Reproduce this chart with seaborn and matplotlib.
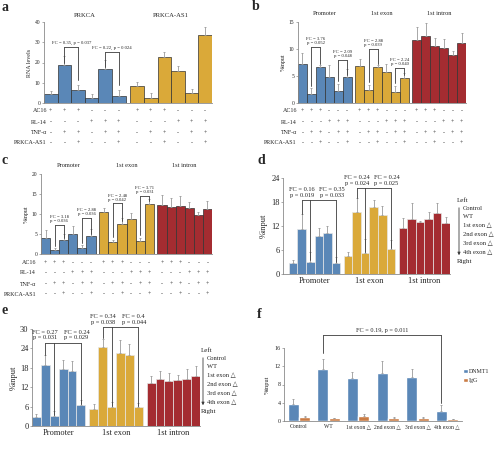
import numpy as np
import pandas as pd
import matplotlib
matplotlib.use("Agg")
import matplotlib.pyplot as plt
import seaborn as sns
from matplotlib.transforms import blended_transform_factory

# === DATA ===
# panel a: RNA levels
A_GROUPS = ["PRKCA", "PRKCA-AS1"]
A_PRKCA = [4.4, 18.6, 6.4, 2.3, 16.8, 3.5]
A_PRKCA_ERR = [1.5, 4.5, 2.5, 2.0, 4.5, 2.9]
A_AS1 = [8.4, 2.3, 22.6, 15.8, 4.8, 33.6]
A_AS1_ERR = [2.0, 2.8, 2.4, 2.5, 2.0, 4.1]

# panel b: %input
REGIONS = ["Promoter", "1st exon", "1st intron"]
B_PROM = [7.2, 1.7, 6.7, 4.8, 2.2, 4.8]
B_PROM_ERR = [2.0, 1.0, 0.3, 2.2, 1.4, 1.5]
B_EXON = [6.9, 2.4, 6.7, 5.7, 2.0, 4.7]
B_EXON_ERR = [1.3, 1.0, 0.3, 1.5, 1.2, 0.8]
B_INTRON = [11.7, 12.5, 10.5, 10.2, 8.8, 11.2]
B_INTRON_ERR = [2.3, 2.3, 1.5, 1.6, 0.8, 1.7]

# panel c: %input
C_PROM = [4.0, 1.0, 3.5, 5.1, 1.6, 4.5]
C_PROM_ERR = [2.0, 0.5, 1.5, 2.0, 0.6, 1.8]
C_EXON = [10.6, 3.0, 7.6, 8.8, 3.3, 12.6]
C_EXON_ERR = [1.0, 0.6, 1.3, 1.5, 0.8, 1.2]
C_INTRON = [12.3, 11.7, 12.1, 11.5, 9.8, 11.2]
C_INTRON_ERR = [2.5, 2.3, 2.5, 1.6, 0.8, 2.1]

# panel d: %input
D_PROM = [2.7, 11.3, 3.1, 9.4, 10.3, 2.7]
D_PROM_ERR = [0.8, 3.6, 2.5, 2.0, 1.8, 1.6]
D_EXON = [4.4, 15.6, 5.2, 16.7, 14.7, 6.2]
D_EXON_ERR = [1.2, 3.3, 3.5, 1.8, 2.2, 2.3]
D_INTRON = [11.6, 13.8, 12.9, 13.8, 15.2, 12.7]
D_INTRON_ERR = [2.3, 3.9, 0.3, 1.6, 2.5, 1.5]

# panel e: %input
E_PROM = [2.8, 18.9, 3.1, 17.7, 16.9, 6.5]
E_PROM_ERR = [0.8, 3.0, 1.5, 2.7, 3.3, 1.5]
E_EXON = [5.3, 24.5, 5.8, 22.7, 21.9, 5.8]
E_EXON_ERR = [1.5, 2.5, 1.5, 4.0, 3.5, 1.3]
E_INTRON = [13.2, 14.4, 13.9, 14.3, 14.6, 15.4]
E_INTRON_ERR = [2.2, 2.5, 2.5, 1.5, 3.0, 3.3]

# panel f: DNMT1 / IgG
F_CATS = ["Control", "WT", "1st exon △", "2nd exon △", "3rd exon △", "4th exon △"]
F_DNMT1 = [3.7, 11.3, 9.5, 10.6, 9.7, 2.1]
F_DNMT1_ERR = [1.1, 2.2, 1.3, 2.6, 1.6, 1.4]
F_IGG = [0.8, 0.6, 1.1, 0.7, 0.6, 0.4]
F_IGG_ERR = [0.2, 0.1, 0.4, 0.15, 0.2, 0.1]

# treatment tables (one char per bar in a group)
TREAT_LABELS = ["AC16", "RL-14", "TNF-α", "PRKCA-AS1"]
TREAT_ROWS = ["+++---", "---+++", "-++-++", "--+--+"]

# fold-change annotations
A_FC = ["FC = 0.35, p = 0.037", "FC = 0.22, p = 0.024"]
B_FC = ["FC = 3.76\np = 0.052", "FC = 2.09\np = 0.048", "FC = 2.88\np = 0.039", "FC = 2.24\np = 0.040"]
C_FC = ["FC = 3.18\np = 0.036", "FC = 2.88\np = 0.036", "FC = 2.48\np = 0.042", "FC = 3.71\np = 0.031"]
D_FC = ["FC = 0.16\np = 0.019", "FC = 0.35\np = 0.033", "FC = 0.24\np = 0.024", "FC = 0.24\np = 0.025"]
E_FC = ["FC = 0.27\np = 0.031", "FC = 0.24\np = 0.029", "FC = 0.34\np = 0.038", "FC = 0.4\np = 0.044"]
F_FC = "FC = 0.19, p = 0.011"
ORDER_LABELS = ["Control", "WT", "1st exon △", "2nd exon △", "3rd exon △", "4th exon △"]

# === STYLE ===
BLUE, GOLD, RED, ORANGE = "#4A86C6", "#F5B41E", "#B8181F", "#E0782F"
DARK = {"#4a86c6": "#2E5F95", "#f5b41e": "#B8860B", "#b8181f": "#7E0F14"}
LINE = "#3a3a3a"

sns.set_theme(style="white")
plt.rcParams["font.family"] = ["Liberation Serif", "DejaVu Sans"]

W, H = 500, 451
fig = plt.figure(figsize=(W / 100, H / 100), dpi=100)


def add_axes(l, t, r, b):
    return fig.add_axes([l / W, 1 - b / H, (r - l) / W, (b - t) / H])


def ftext(x, y, s, **kw):
    fig.text(x / W, 1 - y / H, s, **kw)


def fy(y):
    return 1 - y / H


def draw_bars(ax, groups, vals, errs, colors, gap, edge):
    pos = []
    for gi, vv in enumerate(vals):
        pos += [gi * (len(vv) + gap) + j for j in range(len(vv))]
    df = pd.DataFrame({"pos": pos, "val": np.concatenate(vals),
                       "grp": np.repeat(groups, [len(v) for v in vals])})
    sns.barplot(data=df, x="pos", y="val", hue="grp", palette=dict(zip(groups, colors)),
                native_scale=True, width=1, dodge=False, legend=False, errorbar=None,
                linewidth=0.5, ax=ax)
    for p in ax.patches:
        fc = matplotlib.colors.to_hex(p.get_facecolor())
        p.set_edgecolor(DARK.get(fc, "#333333") if edge == "dark" else edge)
    e = np.concatenate(errs)
    ax.errorbar(df["pos"], df["val"], yerr=[np.zeros(len(e)), e], fmt="none",
                ecolor="#9a9a9a", elinewidth=0.6, capsize=0.8, capthick=0.6)
    return np.array(pos), df["val"].to_numpy(), e


def style_axes(ax, ymax, step, fs):
    ax.set_ylim(0, ymax)
    ax.set_yticks(np.arange(0, ymax + 0.01, step))
    for s in ["top", "right"]:
        ax.spines[s].set_visible(False)
    for s in ["left", "bottom"]:
        ax.spines[s].set_color("#8a8a8a")
        ax.spines[s].set_linewidth(0.6)
    ax.tick_params(axis="y", length=1.5, width=0.5, labelsize=fs, pad=1, color="#8a8a8a", left=True)
    ax.tick_params(axis="x", length=0)
    ax.set_xlabel("")
    ax.set_ylabel("")
    ax.patch.set_alpha(0)


def bracket(ax, xs, top, ends, lw=0.6):
    ax.plot([xs[0], xs[-1]], [top, top], color=LINE, lw=lw, clip_on=False)
    for x, e in zip(xs, ends):
        ax.plot([x, x], [top, e], color=LINE, lw=lw, clip_on=False)


def table(ax, pos, n_groups, label_x, ys, fs=4.3):
    tr = blended_transform_factory(ax.transData, fig.transFigure)
    for lab, row, y in zip(TREAT_LABELS, TREAT_ROWS, ys):
        ftext(label_x, y, lab, ha="right", va="center", fontsize=fs)
        signs = row * n_groups
        for x, s in zip(pos, signs):
            ax.text(x, fy(y), "+" if s == "+" else "-", transform=tr, ha="center",
                    va="center", fontsize=fs)


# === PANEL a ===
ax = add_axes(44, 22, 212, 103)
pos, v, e = draw_bars(ax, A_GROUPS, [A_PRKCA, A_AS1], [A_PRKCA_ERR, A_AS1_ERR], [BLUE, GOLD], 0.35, "dark")
style_axes(ax, 40, 10, 4)
ax.set_xticks([])
ax.set_xlim(-0.5, 11.85)
ax.set_ylabel("RNA levels", fontsize=4.3, labelpad=2)
for gi, g in enumerate(A_GROUPS):
    ax.text(pos[gi * 6:gi * 6 + 6].mean(), 1.05, g, transform=blended_transform_factory(ax.transData, ax.transAxes),
            ha="center", va="bottom", fontsize=4.8)
for (i, j), top, lab in zip([(1, 2), (4, 5)], [27.7, 25.2], A_FC):
    bracket(ax, [pos[i], pos[j]], top, [v[i] + 1.2, v[j] + e[j] + 2.5])
    ax.text((pos[i] + pos[j]) / 2, top + 1.0, lab, ha="center", va="bottom", fontsize=3.4)
table(ax, pos, 2, 47, [111, 122, 133, 143])


def chip_abc(l, t, r, b, vals, errs, ymax, step, fcs, tops, label_x, ys):
    ax = add_axes(l, t, r, b)
    pos, v, e = draw_bars(ax, REGIONS, vals, errs, [BLUE, GOLD, RED], 0.4, "dark")
    style_axes(ax, ymax, step, 4)
    ax.set_xticks([])
    ax.set_xlim(-0.5, 18.3)
    ax.set_ylabel("%input", fontsize=4.3, labelpad=2)
    tr = blended_transform_factory(ax.transData, ax.transAxes)
    for gi, g in enumerate(REGIONS):
        ax.text(pos[gi * 6:gi * 6 + 6].mean(), 1.07, g, transform=tr, ha="center", va="bottom", fontsize=4.6)
    for (i, j), top, lab in zip([(1, 2), (4, 5), (7, 8), (10, 11)], tops, fcs):
        bracket(ax, [pos[i], pos[j]], top, [v[i] + e[i] + 0.03 * ymax, v[j] + 0.03 * ymax])
        ax.text((pos[i] + pos[j]) / 2, top + 0.02 * ymax, lab, ha="center", va="bottom",
                fontsize=3.4, linespacing=1.0)
    table(ax, pos, 3, label_x, ys)
    return ax


# === PANEL b ===
chip_abc(298, 22, 466, 103, [B_PROM, B_EXON, B_INTRON], [B_PROM_ERR, B_EXON_ERR, B_INTRON_ERR],
         15, 5, B_FC, [10.4, 8.0, 10.0, 6.5], 297, [111, 122, 133, 143])

# === PANEL c ===
chip_abc(41, 174, 212, 254, [C_PROM, C_EXON, C_INTRON], [C_PROM_ERR, C_EXON_ERR, C_INTRON_ERR],
         20, 5, C_FC, [7.25, 9.0, 12.7, 14.5], 36, [263, 273, 284, 294])


def chip_de(l, t, r, b, vals, errs, ymax, step, xl, fcs, tops, leg_x, leg_y):
    ax = add_axes(l, t, r, b)
    pos, v, e = draw_bars(ax, REGIONS, vals, errs, [BLUE, GOLD, RED], 0.45, "#e6e6e6")
    style_axes(ax, ymax, step, 6)
    ax.set_xlim(xl, 18.4)
    ax.set_xticks([pos[gi * 6:gi * 6 + 6].mean() for gi in range(3)])
    ax.set_xticklabels(REGIONS, fontsize=6)
    ax.tick_params(axis="x", pad=2)
    ax.set_ylabel("%input", fontsize=6, labelpad=2)
    for gi, top in enumerate(tops):
        i, k, j = gi * 6 + 1, gi * 6 + 2, gi * 6 + 5
        bracket(ax, [pos[i], pos[k], pos[j]], top, [v[i] + e[i] + 0.2, v[k] + 0.4, v[j] + 0.4])
        ax.text(pos[i], top + 0.025 * ymax, fcs[gi * 2], ha="center", va="bottom", fontsize=4.6, linespacing=1.1)
        ax.text(pos[j] - 0.5, top + 0.025 * ymax, fcs[gi * 2 + 1], ha="center", va="bottom",
                fontsize=4.6, linespacing=1.1)
    # order legend
    ftext(leg_x, leg_y, "Left", ha="left", va="center", fontsize=5.0)
    for k, lab in enumerate(ORDER_LABELS):
        ftext(leg_x + 6, leg_y + 8 + k * 8.8, lab, ha="left", va="center", fontsize=4.7)
    ftext(leg_x, leg_y + 62, "Right", ha="left", va="center", fontsize=5.0)
    ax.annotate("", xy=(leg_x + 2, H - (leg_y + 58)), xytext=(leg_x + 2, H - (leg_y + 5)),
                xycoords="figure pixels", textcoords="figure pixels", annotation_clip=False,
                arrowprops=dict(arrowstyle="-|>", lw=0.6, color=LINE, mutation_scale=4))
    return ax


# === PANEL d ===
chip_de(283, 178, 450, 274, [D_PROM, D_EXON, D_INTRON], [D_PROM_ERR, D_EXON_ERR, D_INTRON_ERR],
        24, 6, -1.2, D_FC, [18.5, 21.5], 457, 200)

# === PANEL e ===
chip_de(32, 329, 200, 426, [E_PROM, E_EXON, E_INTRON], [E_PROM_ERR, E_EXON_ERR, E_INTRON_ERR],
        30, 6, -0.5, E_FC, [25.7, 30.6], 201, 350)

# === PANEL f ===
ax = add_axes(284, 348, 462, 421)
dff = pd.DataFrame({"cat": F_CATS * 2, "val": F_DNMT1 + F_IGG,
                    "ab": ["DNMT1"] * len(F_CATS) + ["IgG"] * len(F_CATS)})
sns.barplot(data=dff, x="cat", y="val", hue="ab", palette={"DNMT1": BLUE, "IgG": ORANGE},
            width=0.78, gap=0.05, errorbar=None, ax=ax)
xs = np.arange(len(F_CATS))
off = 0.78 / 4
ax.errorbar(xs - off, F_DNMT1, yerr=[np.zeros(6), F_DNMT1_ERR], fmt="none", ecolor="#9a9a9a",
            elinewidth=0.6, capsize=0.8, capthick=0.6)
ax.errorbar(xs + off, F_IGG, yerr=[np.zeros(6), F_IGG_ERR], fmt="none", ecolor="#9a9a9a",
            elinewidth=0.6, capsize=0.8, capthick=0.6)
style_axes(ax, 16, 4, 4.3)
ax.set_xlim(-0.5, 5.5)
ax.tick_params(axis="x", labelsize=4.1, pad=2)
ax.set_ylabel("%input", fontsize=4.5, labelpad=3)
bracket(ax, [1 - off, 5 - off], 18.8, [14.9, 4.0])
ax.text(3 - off, 19.2, F_FC, ha="center", va="bottom", fontsize=4.5)
sns.move_legend(ax, "center left", bbox_to_anchor=(1.0, 0.62), frameon=False, fontsize=4.3,
                title=None, handlelength=0.8, handleheight=0.8, handletextpad=0.2,
                borderaxespad=0, borderpad=0.2, labelspacing=0.6)

# === PANEL LABELS ===
for lab, x, y in [("a", 1, 7.5), ("b", 252, 6.5), ("c", 2, 160), ("d", 257, 160), ("e", 2, 310), ("f", 257, 314)]:
    ftext(x, y, lab, ha="left", va="center", fontsize=10, fontweight="bold")

fig.savefig("out.png", dpi=100)
